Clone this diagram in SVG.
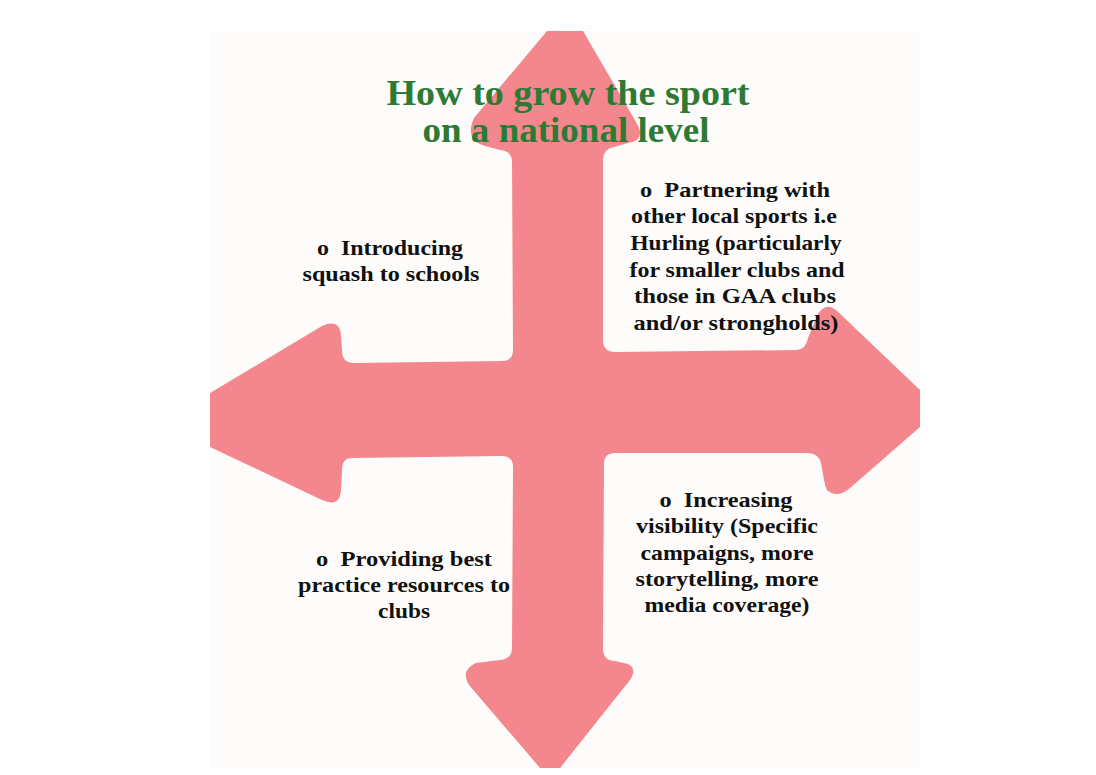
<svg xmlns="http://www.w3.org/2000/svg" width="1096" height="775" viewBox="0 0 1096 775">
  <style>
    .body { font-family: "Liberation Serif", "Times New Roman", serif; font-weight: bold; font-size: 22px; fill: #111111; text-anchor: middle; white-space: pre; }
    .title { font-family: "Liberation Serif", "Times New Roman", serif; font-weight: bold; font-size: 35px; fill: #2E7A35; text-anchor: middle; }
    .arrow { fill: #F4878E; }
  </style>
  <rect x="0" y="0" width="1096" height="775" fill="#FFFFFF"/>
  <rect id="panel" x="210" y="31" width="710" height="738" fill="#FDFCFA"/>
  <g id="arrow">
    <path class="arrow" d="M 547 31 L 583 31 L 636 122 Q 647 140 628 143 L 614 147 Q 603 149 603 160
      L 603 340 Q 603 352 615 352 L 797 350 Q 806 349 808 338 L 818 314 Q 826 302 836 310 L 920 390 L 920 427
      L 850 488 Q 837 499 827 490 Q 825 486 824 480 L 821 463 Q 818 453 808 453 L 615 453 Q 604 453 604 464
      L 603 650 Q 604 661 615 661 L 624 663 Q 639 666 630 680 L 560 768 L 540 768 L 469 685 Q 460 670 476 663
      L 500 660 Q 512 659 512 648 L 513 467 Q 513 456 502 456 L 352 458 Q 342 458 342 470 L 341 490
      Q 340 508 322 500 L 210 447 L 210 393 L 322 326 Q 340 318 341 336 L 342 350 Q 342 363 354 363
      L 502 361 Q 513 361 513 350 L 512 162 Q 512 151 500 150 L 485 146 Q 464 140 474 118 Z"/>
  </g>
  <g id="title">
    <text class="title" x="568" y="105" textLength="363" lengthAdjust="spacingAndGlyphs">How to grow the sport</text>
    <text class="title" x="566" y="142" textLength="287" lengthAdjust="spacingAndGlyphs">on a national level</text>
  </g>
  <g id="node-schools">
    <text class="body" x="390" y="255" textLength="146" lengthAdjust="spacingAndGlyphs">o  Introducing</text>
    <text class="body" x="391" y="281" textLength="177" lengthAdjust="spacingAndGlyphs">squash to schools</text>
  </g>
  <g id="node-partnering">
    <text class="body" x="735" y="197" textLength="190" lengthAdjust="spacingAndGlyphs">o  Partnering with</text>
    <text class="body" x="734" y="223" textLength="206" lengthAdjust="spacingAndGlyphs">other local sports i.e</text>
    <text class="body" x="736" y="250" textLength="211" lengthAdjust="spacingAndGlyphs">Hurling (particularly</text>
    <text class="body" x="737" y="277" textLength="215" lengthAdjust="spacingAndGlyphs">for smaller clubs and</text>
    <text class="body" x="735" y="303" textLength="202" lengthAdjust="spacingAndGlyphs">those in GAA clubs</text>
    <text class="body" x="736" y="330" textLength="205" lengthAdjust="spacingAndGlyphs">and/or strongholds)</text>
  </g>
  <g id="node-resources">
    <text class="body" x="404" y="566" textLength="176" lengthAdjust="spacingAndGlyphs">o  Providing best</text>
    <text class="body" x="404" y="592" textLength="212" lengthAdjust="spacingAndGlyphs">practice resources to</text>
    <text class="body" x="404" y="618" textLength="52" lengthAdjust="spacingAndGlyphs">clubs</text>
  </g>
  <g id="node-visibility">
    <text class="body" x="726" y="507" textLength="133" lengthAdjust="spacingAndGlyphs">o  Increasing</text>
    <text class="body" x="727" y="533" textLength="182" lengthAdjust="spacingAndGlyphs">visibility (Specific</text>
    <text class="body" x="727" y="560" textLength="173" lengthAdjust="spacingAndGlyphs">campaigns, more</text>
    <text class="body" x="727" y="586" textLength="183" lengthAdjust="spacingAndGlyphs">storytelling, more</text>
    <text class="body" x="727" y="612" textLength="165" lengthAdjust="spacingAndGlyphs">media coverage)</text>
  </g>
</svg>
